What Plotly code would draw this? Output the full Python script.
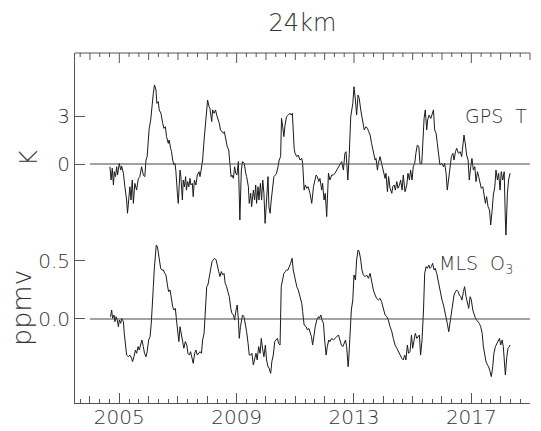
import plotly.graph_objects as go

# ---------------- data ----------------
title_text = "24km"
top_label = "K"
bottom_label = "ppmv"
gps_label = "GPS\u00a0\u00a0T"
mls_label = "MLS\u00a0\u00a0O<sub>3</sub>"

year_tick_vals = [2005, 2009, 2013, 2017]
year_tick_text = ["2005", "2009", "2013", "2017"]
every_year = list(range(2004, 2020))
gps_tick_vals = [0, 3]
gps_tick_text = ["0", "3"]
mls_tick_vals = [0.0, 0.5]
mls_tick_text = ["0.0", "0.5"]
zero_line_x = [2004.0, 2019.0]
zero_line_y = [0, 0]

gps_year = [
    2004.68, 2004.72, 2004.76, 2004.80, 2004.83, 2004.87, 2004.91, 2004.94, 2005.00, 2005.05,
    2005.08, 2005.14, 2005.19, 2005.25, 2005.28, 2005.33, 2005.36, 2005.40, 2005.44, 2005.48,
    2005.53, 2005.59, 2005.65, 2005.70, 2005.76, 2005.82, 2005.87, 2005.91, 2005.95, 2005.99,
    2006.02, 2006.07, 2006.10, 2006.16, 2006.20, 2006.25, 2006.28, 2006.33, 2006.36, 2006.42,
    2006.48, 2006.52, 2006.57, 2006.61, 2006.67, 2006.70, 2006.75, 2006.78, 2006.82, 2006.86,
    2006.90, 2006.93, 2006.98, 2007.01, 2007.07, 2007.10, 2007.15, 2007.18, 2007.22, 2007.26,
    2007.29, 2007.33, 2007.37, 2007.41, 2007.44, 2007.49, 2007.52, 2007.56, 2007.61, 2007.66,
    2007.72, 2007.75, 2007.79, 2007.84, 2007.89, 2007.93, 2007.98, 2008.01, 2008.06, 2008.09,
    2008.15, 2008.18, 2008.23, 2008.28, 2008.32, 2008.36, 2008.41, 2008.45, 2008.49, 2008.55,
    2008.58, 2008.63, 2008.68, 2008.73, 2008.77, 2008.81, 2008.84, 2008.89, 2008.93, 2008.97,
    2009.01, 2009.06, 2009.11, 2009.16, 2009.20, 2009.26, 2009.31, 2009.34, 2009.40, 2009.43,
    2009.48, 2009.51, 2009.57, 2009.61, 2009.65, 2009.68, 2009.73, 2009.76, 2009.81, 2009.85,
    2009.89, 2009.93, 2009.97, 2010.02, 2010.07, 2010.10, 2010.14, 2010.18, 2010.23, 2010.27,
    2010.32, 2010.36, 2010.41, 2010.45, 2010.50, 2010.53, 2010.57, 2010.61, 2010.65, 2010.70,
    2010.76, 2010.82, 2010.86, 2010.90, 2010.96, 2010.99, 2011.05, 2011.10, 2011.16, 2011.22,
    2011.25, 2011.30, 2011.34, 2011.39, 2011.44, 2011.50, 2011.56, 2011.62, 2011.67, 2011.71,
    2011.75, 2011.80, 2011.84, 2011.90, 2011.93, 2011.98, 2012.02, 2012.07, 2012.13, 2012.18,
    2012.24, 2012.30, 2012.35, 2012.41, 2012.47, 2012.52, 2012.58, 2012.64, 2012.69, 2012.73,
    2012.79, 2012.84, 2012.89, 2012.96, 2013.00, 2013.05, 2013.09, 2013.14, 2013.18, 2013.23,
    2013.30, 2013.35, 2013.41, 2013.46, 2013.50, 2013.55, 2013.60, 2013.66, 2013.72, 2013.75,
    2013.80, 2013.83, 2013.89, 2013.94, 2014.00, 2014.06, 2014.09, 2014.14, 2014.18, 2014.23,
    2014.29, 2014.32, 2014.37, 2014.41, 2014.46, 2014.50, 2014.55, 2014.59, 2014.64, 2014.68,
    2014.74, 2014.80, 2014.84, 2014.89, 2014.93, 2014.98, 2015.02, 2015.07, 2015.11, 2015.16,
    2015.21, 2015.25, 2015.31, 2015.34, 2015.39, 2015.43, 2015.48, 2015.51, 2015.56, 2015.62,
    2015.66, 2015.71, 2015.75, 2015.80, 2015.84, 2015.89, 2015.93, 2015.99, 2016.05, 2016.09,
    2016.14, 2016.18, 2016.23, 2016.27, 2016.32, 2016.37, 2016.41, 2016.46, 2016.50, 2016.56,
    2016.62, 2016.67, 2016.71, 2016.75, 2016.80, 2016.84, 2016.89, 2016.93, 2016.98, 2017.02,
    2017.07, 2017.12, 2017.16, 2017.21, 2017.25, 2017.30, 2017.34, 2017.39, 2017.43, 2017.48,
    2017.52, 2017.57, 2017.62, 2017.66, 2017.71, 2017.75, 2017.80, 2017.84, 2017.89, 2017.93,
    2017.98, 2018.02, 2018.07, 2018.12, 2018.16, 2018.18, 2018.23, 2018.27, 2018.32,
]
gps_T = [
    -0.17, -1.00, -0.27, -1.31, -0.48, -0.79, -0.17, -0.69, 0.04, -0.38,
    -0.13, -0.58, -1.42, -2.25, -3.08, -1.83, -1.42, -2.25, -1.00, -2.46,
    -1.21, -1.63, -0.90, -0.79, -0.17, -0.69, -0.79, 0.25, 0.46, 1.50,
    2.23, 2.75, 3.48, 4.42, 4.94, 4.63, 3.79, 3.90, 3.38, 3.17,
    2.54, 2.23, 2.33, 1.71, 1.29, 1.50, 0.98, 0.77, 0.25, -0.06,
    0.04, -0.48, -1.83, -2.46, -0.38, -0.79, -2.25, -1.00, -1.42, -0.79,
    -1.63, -1.10, -1.42, -0.90, -1.31, -1.21, -2.04, -1.00, -1.31, -0.69,
    -0.48, -0.79, -0.38, 0.25, 1.50, 2.54, 3.38, 4.00, 3.58, 3.48,
    2.65, 3.38, 3.17, 3.38, 3.06, 2.85, 2.54, 2.13, 2.02, 1.92,
    2.02, 1.50, 1.08, 0.88, 0.15, -0.79, -0.69, -0.90, -0.17, -0.58,
    -0.69, 0.15, -3.50, -0.38, 0.15, 0.04, -0.58, -0.79, -1.42, -2.46,
    -1.83, -2.67, -1.63, -2.25, -1.31, -2.46, -1.42, -2.25, -1.21, -2.25,
    -1.00, -1.83, -3.71, -2.25, -0.79, -2.67, -3.08, -2.25, -1.42, -0.79,
    -0.69, -0.58, -0.17, 0.25, 0.46, 2.85, 2.33, 1.71, 2.44, 2.96,
    3.06, 3.17, 3.06, 3.17, 0.98, 0.67, 0.46, 0.56, 0.25, 0.35,
    0.04, -1.63, -1.31, -1.52, -1.42, -1.83, -2.46, -1.42, -1.00, -0.69,
    -0.79, -1.10, -0.90, -1.63, -1.21, -2.25, -1.83, -3.29, -0.58, -1.00,
    -0.69, -0.69, -0.58, -0.38, -0.27, -0.06, 0.15, -0.38, 0.67, 0.77,
    -1.00, 0.67, 2.96, 3.79, 4.83, 4.00, 3.06, 4.31, 4.10, 3.38,
    2.54, 2.13, 2.33, 2.23, 2.02, 1.81, 1.29, 0.67, 0.25, 0.35,
    -0.38, 0.04, 0.46, 0.04, -0.38, -0.90, -0.58, -1.73, -0.79, -1.52,
    -1.83, -1.42, -1.31, -1.63, -1.10, -1.52, -1.31, -1.00, -1.63, -0.69,
    -1.73, -1.31, -0.58, -1.00, -0.38, -1.00, -0.17, 0.04, 0.67, 1.19,
    1.08, 0.04, 0.04, 1.50, 2.85, 3.38, 2.13, 2.75, 3.06, 2.85,
    3.17, 3.38, 2.13, 1.92, 1.29, 0.67, -0.06, 0.04, -0.17, 0.04,
    -0.58, -1.63, -0.90, -0.17, 0.46, 0.67, 0.25, 0.77, 0.98, 0.67,
    0.77, 0.46, 1.08, 1.81, 1.19, 0.56, 0.25, -1.00, -0.17, 0.35,
    -0.38, -0.17, -1.10, -0.48, -0.79, -1.21, -1.52, -1.42, -1.94, -2.46,
    -2.04, -2.67, -2.88, -3.81, -2.88, -1.94, -1.42, -0.38, -1.00, -0.58,
    -1.63, -0.48, -1.00, -0.48, -3.50, -4.44, -1.83, -1.00, -0.58,
]

mls_year = [
    2004.70, 2004.74, 2004.77, 2004.82, 2004.85, 2004.89, 2004.93, 2004.97, 2005.00, 2005.05,
    2005.08, 2005.14, 2005.17, 2005.20, 2005.25, 2005.31, 2005.36, 2005.42, 2005.45, 2005.50,
    2005.55, 2005.59, 2005.64, 2005.68, 2005.73, 2005.77, 2005.82, 2005.86, 2005.91, 2005.95,
    2006.00, 2006.05, 2006.09, 2006.13, 2006.16, 2006.19, 2006.23, 2006.26, 2006.30, 2006.33,
    2006.36, 2006.41, 2006.45, 2006.50, 2006.55, 2006.59, 2006.64, 2006.68, 2006.73, 2006.77,
    2006.82, 2006.86, 2006.91, 2006.95, 2007.00, 2007.03, 2007.07, 2007.11, 2007.16, 2007.20,
    2007.25, 2007.30, 2007.34, 2007.39, 2007.43, 2007.48, 2007.52, 2007.57, 2007.61, 2007.66,
    2007.70, 2007.75, 2007.80, 2007.84, 2007.89, 2007.93, 2007.98, 2008.02, 2008.07, 2008.11,
    2008.16, 2008.20, 2008.25, 2008.30, 2008.34, 2008.39, 2008.43, 2008.48, 2008.52, 2008.57,
    2008.61, 2008.66, 2008.70, 2008.75, 2008.80, 2008.84, 2008.89, 2008.93, 2008.98, 2009.02,
    2009.06, 2009.09, 2009.13, 2009.17, 2009.20, 2009.25, 2009.30, 2009.34, 2009.39, 2009.43,
    2009.48, 2009.52, 2009.57, 2009.61, 2009.66, 2009.70, 2009.75, 2009.80, 2009.84, 2009.89,
    2009.93, 2009.98, 2010.02, 2010.07, 2010.11, 2010.16, 2010.20, 2010.25, 2010.30, 2010.34,
    2010.39, 2010.43, 2010.48, 2010.52, 2010.57, 2010.61, 2010.66, 2010.70, 2010.75, 2010.80,
    2010.84, 2010.89, 2010.93, 2010.99, 2011.05, 2011.10, 2011.16, 2011.22, 2011.25, 2011.30,
    2011.37, 2011.41, 2011.46, 2011.50, 2011.55, 2011.59, 2011.64, 2011.68, 2011.73, 2011.79,
    2011.82, 2011.87, 2011.91, 2011.96, 2012.00, 2012.05, 2012.09, 2012.14, 2012.18, 2012.24,
    2012.30, 2012.35, 2012.41, 2012.47, 2012.52, 2012.57, 2012.62, 2012.66, 2012.71, 2012.75,
    2012.80, 2012.82, 2012.87, 2012.91, 2012.96, 2013.00, 2013.05, 2013.09, 2013.14, 2013.18,
    2013.23, 2013.27, 2013.32, 2013.38, 2013.43, 2013.49, 2013.55, 2013.60, 2013.66, 2013.72,
    2013.77, 2013.83, 2013.89, 2013.94, 2014.00, 2014.06, 2014.12, 2014.17, 2014.23, 2014.29,
    2014.34, 2014.40, 2014.46, 2014.51, 2014.57, 2014.63, 2014.68, 2014.73, 2014.77, 2014.82,
    2014.86, 2014.91, 2014.96, 2015.00, 2015.05, 2015.09, 2015.14, 2015.18, 2015.23, 2015.27,
    2015.32, 2015.37, 2015.41, 2015.46, 2015.50, 2015.55, 2015.59, 2015.64, 2015.68, 2015.73,
    2015.77, 2015.82, 2015.87, 2015.91, 2015.96, 2016.00, 2016.05, 2016.09, 2016.14, 2016.18,
    2016.23, 2016.27, 2016.32, 2016.37, 2016.41, 2016.46, 2016.50, 2016.55, 2016.59, 2016.64,
    2016.68, 2016.73, 2016.77, 2016.82, 2016.86, 2016.91, 2016.96, 2017.00, 2017.05, 2017.09,
    2017.14, 2017.18, 2017.23, 2017.27, 2017.32, 2017.37, 2017.41, 2017.46, 2017.50, 2017.55,
    2017.59, 2017.64, 2017.68, 2017.73, 2017.77, 2017.82, 2017.87, 2017.91, 2017.96, 2018.00,
    2018.05, 2018.09, 2018.14, 2018.16, 2018.21, 2018.25, 2018.30, 2018.32,
]
mls_o3 = [
    0.020, 0.077, 0.006, 0.034, -0.023, 0.020, -0.009, -0.066, -0.009, -0.037,
    0.006, -0.023, -0.123, -0.209, -0.309, -0.323, -0.309, -0.337, -0.366, -0.323,
    -0.266, -0.294, -0.237, -0.266, -0.209, -0.180, -0.237, -0.294, -0.323, -0.280,
    -0.180, -0.151, -0.037, 0.106, 0.277, 0.420, 0.534, 0.634, 0.620, 0.563,
    0.506, 0.434, 0.420, 0.420, 0.391, 0.377, 0.291, 0.234, 0.249, 0.177,
    0.106, 0.077, 0.091, -0.009, -0.123, -0.194, -0.066, -0.123, -0.166, -0.251,
    -0.194, -0.223, -0.294, -0.309, -0.280, -0.323, -0.380, -0.294, -0.266, -0.309,
    -0.294, -0.280, -0.294, -0.180, -0.123, 0.049, 0.277, 0.291, 0.363, 0.434,
    0.491, 0.506, 0.520, 0.506, 0.449, 0.406, 0.363, 0.406, 0.377, 0.391,
    0.306, 0.277, 0.234, 0.191, 0.091, 0.049, 0.034, -0.009, 0.077, 0.120,
    -0.009, -0.166, -0.066, 0.020, 0.034, 0.020, -0.037, -0.109, -0.209, -0.309,
    -0.309, -0.294, -0.394, -0.351, -0.294, -0.351, -0.237, -0.294, -0.166, -0.266,
    -0.323, -0.223, -0.351, -0.409, -0.423, -0.466, -0.366, -0.309, -0.194, -0.180,
    -0.166, -0.209, -0.223, 0.277, 0.334, 0.391, 0.406, 0.420, 0.420, 0.449,
    0.477, 0.520, 0.420, 0.349, 0.277, 0.249, 0.191, 0.134, 0.063, -0.051,
    -0.066, -0.094, -0.080, -0.109, -0.151, -0.223, -0.123, -0.066, -0.009, 0.020,
    0.006, 0.034, -0.009, -0.037, -0.180, -0.309, -0.237, -0.180, -0.194, -0.166,
    -0.180, -0.166, -0.151, -0.137, -0.180, -0.223, -0.237, -0.209, -0.180, -0.237,
    -0.409, -0.351, -0.066, 0.077, 0.163, 0.377, 0.334, 0.506, 0.591, 0.577,
    0.506, 0.420, 0.377, 0.363, 0.377, 0.349, 0.391, 0.320, 0.249, 0.206,
    0.177, 0.163, 0.177, 0.149, 0.077, 0.034, 0.020, -0.009, -0.066, -0.109,
    -0.166, -0.223, -0.251, -0.280, -0.309, -0.337, -0.351, -0.309, -0.351, -0.223,
    -0.294, -0.280, -0.137, -0.251, -0.180, -0.123, -0.166, -0.151, -0.137, -0.309,
    -0.180, 0.077, 0.391, 0.449, 0.434, 0.463, 0.434, 0.449, 0.477, 0.420,
    0.434, 0.391, 0.320, 0.277, 0.206, 0.163, 0.120, 0.077, 0.020, -0.037,
    -0.109, -0.037, 0.049, 0.163, 0.206, 0.234, 0.249, 0.234, 0.206, 0.191,
    0.163, 0.234, 0.277, 0.191, 0.149, 0.091, 0.191, 0.163, 0.077, 0.034,
    0.006, -0.009, -0.023, -0.037, -0.066, -0.123, -0.237, -0.323, -0.366, -0.394,
    -0.409, -0.451, -0.494, -0.409, -0.294, -0.237, -0.209, -0.194, -0.166, -0.223,
    -0.180, -0.237, -0.366, -0.480, -0.323, -0.251, -0.237, -0.223,
]

# ---------------- styling ----------------
FONT = "DejaVu Sans"
TXT = "#333333"
AX = "#555555"
LINE = "#1a1a1a"
ZERO = "#444444"
X_RANGE = [2003.49, 2019.0]
W, H = 541, 431
ML, MR, MT, MB = 75, 11, 53, 28
PW, PH = W - ML - MR, H - MT - MB
SPLIT = (H - MB - 240) / PH
MINOR_LEN, YEAR_LEN, MAJOR_LEN = 4, 7, 10


def px_x(px):
    return (px - ML) / PW


def px_y(py):
    return (H - MB - py) / PH


def year_to_paper(v):
    return (v - X_RANGE[0]) / (X_RANGE[1] - X_RANGE[0])


fig = go.Figure()
# top panel: GPS temperature (x3 / y)
fig.add_trace(go.Scatter(x=gps_year, y=gps_T, mode="lines", xaxis="x3", yaxis="y",
                         line=dict(color=LINE, width=1), showlegend=False, hoverinfo="skip"))
fig.add_trace(go.Scatter(x=zero_line_x, y=zero_line_y, mode="lines", xaxis="x3", yaxis="y",
                         line=dict(color=ZERO, width=1), showlegend=False, hoverinfo="skip"))
# bottom panel: MLS ozone (x / y2)
fig.add_trace(go.Scatter(x=mls_year, y=mls_o3, mode="lines", xaxis="x", yaxis="y2",
                         line=dict(color=LINE, width=1), showlegend=False, hoverinfo="skip"))
fig.add_trace(go.Scatter(x=zero_line_x, y=zero_line_y, mode="lines", xaxis="x2", yaxis="y2",
                         line=dict(color=ZERO, width=1), showlegend=False, hoverinfo="skip"))

tickfont = dict(family=FONT, size=20, color=TXT, weight=200)
minor = dict(tickmode="linear", tick0=2004, dtick=1 / 3, ticklen=MINOR_LEN, ticks="inside",
             tickcolor=AX, tickwidth=1, showgrid=False)
common_x = dict(range=X_RANGE, showgrid=False, zeroline=False, tickcolor=AX, tickwidth=1,
                ticks="inside", fixedrange=True, automargin=False, tickmode="array")
common_y = dict(tickmode="array", ticks="inside", ticklen=10, tickcolor=AX, tickwidth=1,
                showline=True, linecolor=AX, linewidth=1, showgrid=False, zeroline=False,
                tickfont=tickfont, fixedrange=True, automargin=False)

# top frame line and its ticks (mirroring the bottom axis ticks), in paper coordinates
tick_positions, tick_lengths = [], []
for yr in [every_year[0] - 1] + every_year:
    for k, frac in enumerate((0.0, 1 / 3, 2 / 3)):
        v = yr + frac
        if not (X_RANGE[0] <= v <= X_RANGE[1]):
            continue
        if k == 0:
            length = MAJOR_LEN if yr in year_tick_vals else YEAR_LEN
        else:
            length = MINOR_LEN
        tick_positions.append(v)
        tick_lengths.append(length)

shapes = [dict(type="line", xref="paper", yref="paper", x0=0, x1=1, y0=1, y1=1,
               line=dict(color=AX, width=1))]
for v, length in zip(tick_positions, tick_lengths):
    xp = year_to_paper(v)
    shapes.append(dict(type="line", xref="paper", yref="paper", x0=xp, x1=xp, y0=1,
                       y1=1 - length / PH, line=dict(color=AX, width=1)))

fig.update_layout(
    template="none",
    width=W, height=H,
    margin=dict(l=ML, r=MR, t=MT, b=MB, autoexpand=False),
    paper_bgcolor="white", plot_bgcolor="white",
    title=dict(text=title_text, x=0.5, xref="paper", y=1 - 23 / H, yref="container",
               xanchor="center", yanchor="middle", automargin=False,
               font=dict(family=FONT, size=24, color=TXT, weight=200)),
    # bottom frame: yearly ticks + 4-month minor ticks
    xaxis=dict(**common_x, anchor="y2", side="bottom", tickvals=every_year, ticklen=YEAR_LEN,
               showticklabels=False, showline=True, linecolor=AX, linewidth=1, minor=minor),
    # bottom frame: 4-year ticks with labels
    xaxis2=dict(**common_x, anchor="y2", side="bottom", overlaying="x",
                tickvals=year_tick_vals, ticktext=year_tick_text, ticklen=MAJOR_LEN,
                showline=False, tickfont=tickfont),
    # top panel data axis (hidden)
    xaxis3=dict(range=X_RANGE, anchor="y", showgrid=False, zeroline=False, showline=False,
                ticks="", showticklabels=False, fixedrange=True, automargin=False),
    yaxis=dict(**common_y, anchor="x3", domain=[SPLIT, 1], range=[-4.75, (164 - MT) / 16],
               tickvals=gps_tick_vals, ticktext=gps_tick_text),
    yaxis2=dict(**common_y, anchor="x", domain=[0, SPLIT], range=[-0.72, 0.677],
                tickvals=mls_tick_vals, ticktext=mls_tick_text),
    shapes=shapes,
    annotations=[
        dict(text=top_label, xref="paper", yref="paper", x=px_x(29), y=px_y(158),
             showarrow=False, textangle=-90, xanchor="center", yanchor="middle",
             font=dict(family=FONT, size=24, color=TXT, weight=200)),
        dict(text=bottom_label, xref="paper", yref="paper", x=px_x(21), y=px_y(308),
             showarrow=False, textangle=-90, xanchor="center", yanchor="middle",
             font=dict(family=FONT, size=27, color=TXT, weight=200)),
        dict(text=gps_label, xref="paper", yref="paper", x=px_x(529), y=px_y(116),
             showarrow=False, xanchor="right", yanchor="middle",
             font=dict(family=FONT, size=19, color=TXT, weight=200)),
        dict(text=mls_label, xref="paper", yref="paper", x=px_x(516), y=px_y(264),
             showarrow=False, xanchor="right", yanchor="middle",
             font=dict(family=FONT, size=19, color=TXT, weight=200)),
    ],
)

fig.write_html("out.html")
